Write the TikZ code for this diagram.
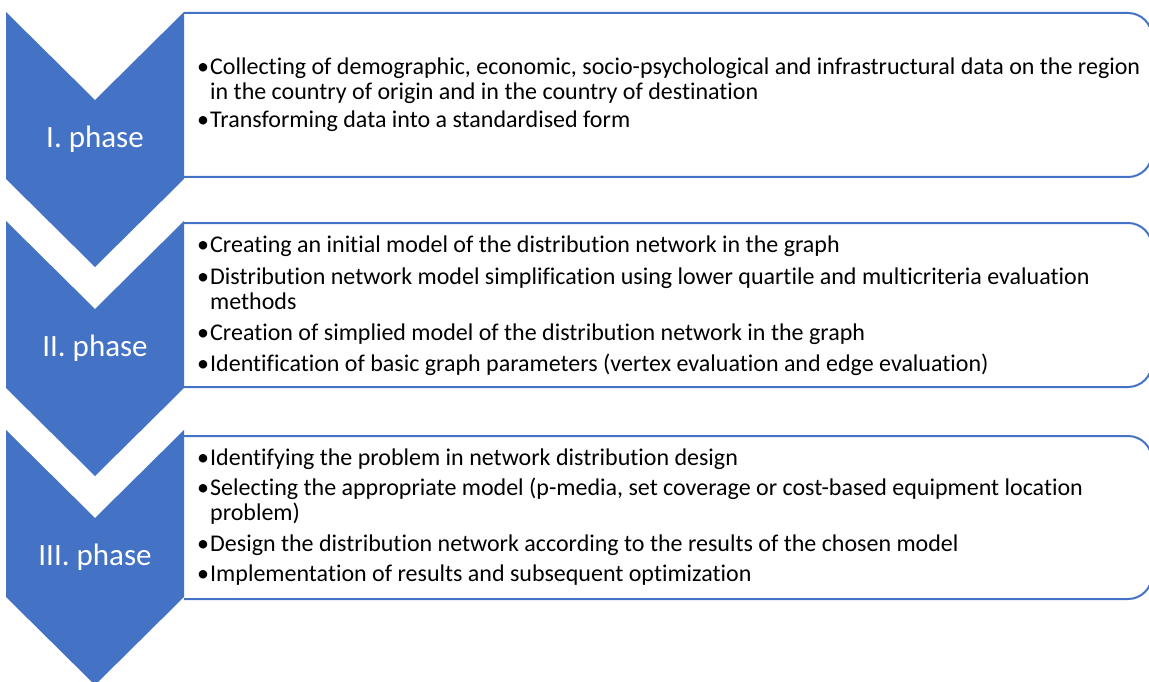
\documentclass[tikz,border=0pt]{standalone}
\usepackage{fontspec}
\setmainfont[Ligatures=NoCommon]{Carlito}
\definecolor{obl}{HTML}{4472C4}
\newcommand{\bul}{\makebox[13pt][l]{•}}
\tikzset{
  chev/.style={fill=obl, draw=none},
  phaselabel/.style={text=white, font=\fontsize{31}{36}\selectfont, inner sep=0pt},
  listbox/.style={draw=obl, line width=2pt, rounded corners=24pt},
  textline/.style={anchor=base west, inner sep=0pt, font=\fontsize{24}{25}\selectfont},
}
\begin{document}
\begin{tikzpicture}[x=1pt, y=-1pt]
\useasboundingbox (0,0) rectangle (1149,682);
% boxes
\draw[listbox] (184,13) -- (1152,13) -- (1152,177) -- (184,177);
\draw[listbox] (184,223) -- (1152,223) -- (1152,387) -- (184,387);
\draw[listbox] (184,436) -- (1152,436) -- (1152,599) -- (184,599);
% chevrons
\fill[chev] (6,12) -- (95,100) -- (184,12) -- (184,179) -- (95,267) -- (6,179) -- cycle;
\fill[chev] (6,221) -- (95,309) -- (184,221) -- (184,388) -- (95,476) -- (6,388) -- cycle;
\fill[chev] (6,430) -- (95,518) -- (184,430) -- (184,597) -- (95,685) -- (6,597) -- cycle;
\node[phaselabel] (p1) at (95,139) {I. phase};
\node[phaselabel] (p2) at (95,348) {II. phase};
\node[phaselabel] (p3) at (95,557) {III. phase};
% box 1 text
\node[textline] (a1) at (197,75) {\bul Collecting of demographic, economic, socio-psychological and infrastructural data on the region};
\node[textline] (a2) at (210,100) {in the country of origin and in the country of destination};
\node[textline] (a3) at (197,128) {\bul Transforming data into a standardised form};
% box 2 text
\node[textline] (b1) at (197,252) {\bul Creating an initial model of the distribution network in the graph};
\node[textline] (b2) at (197,284) {\bul Distribution network model simplification using lower quartile and multicriteria evaluation};
\node[textline] (b3) at (210,309) {methods};
\node[textline] (b4) at (197,340) {\bul Creation of simplied model of the distribution network in the graph};
\node[textline] (b5) at (197,371) {\bul Identification of basic graph parameters (vertex evaluation and edge evaluation)};
% box 3 text
\node[textline] (c1) at (197,465) {\bul Identifying the problem in network distribution design};
\node[textline] (c2) at (197,495) {\bul Selecting the appropriate model (p-media, set coverage or cost-based equipment location};
\node[textline] (c3) at (210,520) {problem)};
\node[textline] (c4) at (197,551) {\bul Design the distribution network according to the results of the chosen model};
\node[textline] (c5) at (197,581) {\bul Implementation of results and subsequent optimization};
\end{tikzpicture}
\end{document}
